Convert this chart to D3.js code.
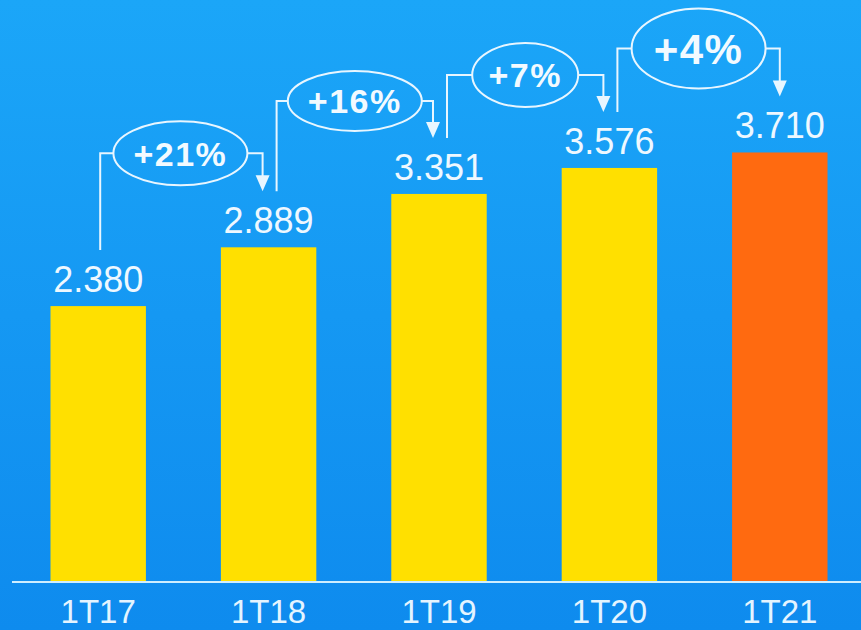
<!DOCTYPE html>
<html>
<head>
<meta charset="utf-8">
<script src="https://cdn.jsdelivr.net/npm/d3@7/dist/d3.min.js"></script>
<style>
  html, body { margin: 0; padding: 0; background: #1598f3; }
  svg { display: block; }
</style>
</head>
<body>
<svg id="chart" width="861" height="630"></svg>
<script>
// Quarterly values (1T = first quarter)
const periods = ["1T17", "1T18", "1T19", "1T20", "1T21"];
const values = [2380, 2889, 3351, 3576, 3710];
const valueLabels = ["2.380", "2.889", "3.351", "3.576", "3.710"];
// Year-on-year growth between consecutive quarters
const growthLabels = ["+21%", "+16%", "+7%", "+4%"];

// Bubble styling for each growth badge
const badgeStyle = [
  { rx: 67, ry: 32, font: 34, lift: 94 },
  { rx: 67, ry: 30, font: 34, lift: 93 },
  { rx: 53, ry: 32, font: 34, lift: 93 },
  { rx: 67, ry: 40, font: 42, lift: 104 }
];

const W = 861, H = 630;
const svg = d3.select("#chart");

// Background gradient
const defs = svg.append("defs");
const grad = defs.append("linearGradient")
  .attr("id", "bg").attr("x1", 0).attr("y1", 0).attr("x2", 0).attr("y2", 1);
grad.append("stop").attr("offset", "0%").attr("stop-color", "#1ba6f8");
grad.append("stop").attr("offset", "50%").attr("stop-color", "#1598f3");
grad.append("stop").attr("offset", "100%").attr("stop-color", "#0e8bee");
svg.append("rect").attr("width", W).attr("height", H).attr("fill", "url(#bg)");

const x = d3.scaleBand().domain(periods).range([13, 865]).paddingInner(0.44).paddingOuter(0.22);
const y = d3.scaleLinear().domain([0, 5030]).range([581, 0]);

const cx = p => x(p) + x.bandwidth() / 2;

// Bars
svg.append("g").selectAll("rect").data(periods).join("rect")
  .attr("x", d => x(d))
  .attr("width", x.bandwidth())
  .attr("y", (d, i) => y(values[i]))
  .attr("height", (d, i) => y(0) - y(values[i]))
  .attr("fill", (d, i) => i === periods.length - 1 ? "#ff6a10" : "#ffe000");

// Baseline
svg.append("line")
  .attr("x1", 12).attr("x2", W).attr("y1", y(0) + 1).attr("y2", y(0) + 1)
  .attr("stroke", "#cfeeff").attr("stroke-width", 2);

// Category axis labels
const xAxis = d3.axisBottom(x).tickSize(0).tickPadding(0);
const gx = svg.append("g").attr("transform", `translate(0,${y(0)})`).call(xAxis);
gx.select(".domain").remove();
gx.selectAll("text")
  .attr("dy", null)
  .attr("y", 42)
  .attr("fill", "#e4f4ff")
  .style("font-family", "'Liberation Sans', Arial, sans-serif")
  .style("font-size", "33px");

// Value labels above bars
svg.append("g").selectAll("text").data(periods).join("text")
  .attr("x", d => cx(d))
  .attr("y", (d, i) => y(values[i]) - 14)
  .attr("text-anchor", "middle")
  .attr("fill", "#eef8ff")
  .style("font-family", "'Liberation Sans', Arial, sans-serif")
  .style("font-size", "36px")
  .text((d, i) => valueLabels[i]);

// Growth connectors with badges
const gGrowth = svg.append("g");
growthLabels.forEach((label, i) => {
  const s = badgeStyle[i];
  const x0 = cx(periods[i]) + (i === 0 ? 2 : 8);
  const x1 = cx(periods[i + 1]) - (i === growthLabels.length - 1 ? 0 : 6);
  const yStart = y(values[i]) - 56;
  const yTip = y(values[i + 1]) - 56;
  const yc = y(values[i + 1]) - s.lift;
  const ex = (x0 + x1) / 2 - (i === 0 ? 1 : 0);
  const stroke = "#e8f6ff";

  gGrowth.append("path")
    .attr("d", `M${x0},${yStart} V${yc} H${ex - s.rx}`)
    .attr("fill", "none").attr("stroke", stroke).attr("stroke-width", 2);
  gGrowth.append("path")
    .attr("d", `M${ex + s.rx},${yc} H${x1} V${yTip - 14}`)
    .attr("fill", "none").attr("stroke", stroke).attr("stroke-width", 2);
  gGrowth.append("path")
    .attr("d", `M${x1 - 7},${yTip - 16} L${x1 + 7},${yTip - 16} L${x1},${yTip} Z`)
    .attr("fill", stroke);

  gGrowth.append("ellipse")
    .attr("cx", ex).attr("cy", yc).attr("rx", s.rx).attr("ry", s.ry)
    .attr("fill", "none").attr("stroke", stroke).attr("stroke-width", 2);
  gGrowth.append("text")
    .attr("x", ex).attr("y", yc + s.font * 0.36)
    .attr("text-anchor", "middle")
    .attr("fill", "#f2faff")
    .style("font-family", "'Liberation Sans', Arial, sans-serif")
    .style("font-weight", "bold")
    .style("font-size", s.font + "px")
    .style("letter-spacing", "1.5px")
    .text(label);
});
</script>
</body>
</html>
